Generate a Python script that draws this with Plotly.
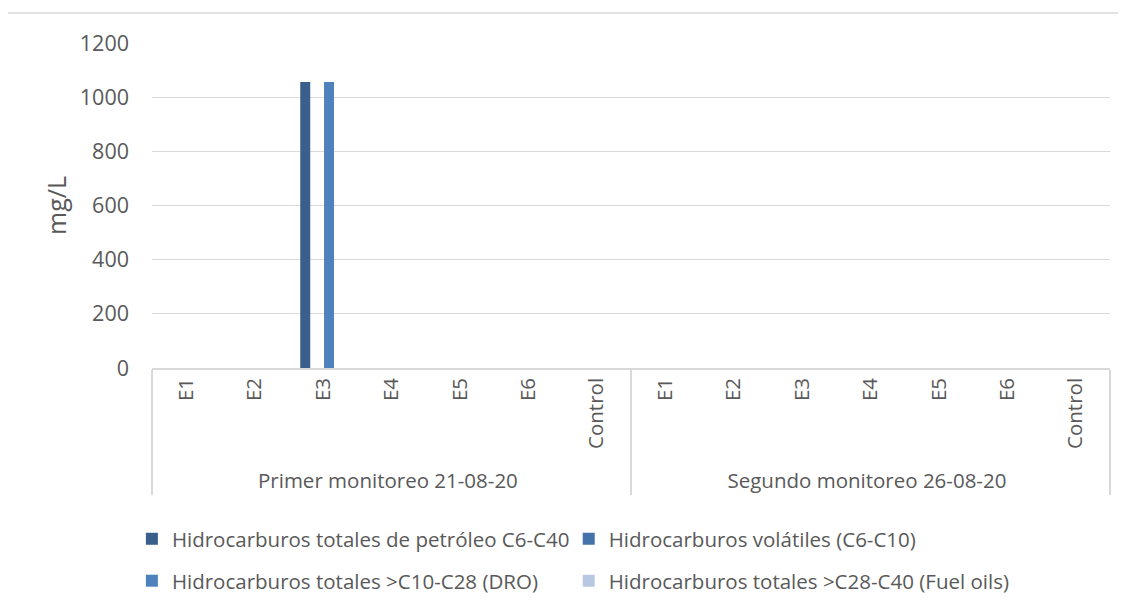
import plotly.graph_objects as go

# category axis: monitoring campaign / station
campaigns = [
    "Primer monitoreo 21-08-20", "Primer monitoreo 21-08-20", "Primer monitoreo 21-08-20",
    "Primer monitoreo 21-08-20", "Primer monitoreo 21-08-20", "Primer monitoreo 21-08-20",
    "Primer monitoreo 21-08-20",
    "Segundo monitoreo 26-08-20", "Segundo monitoreo 26-08-20", "Segundo monitoreo 26-08-20",
    "Segundo monitoreo 26-08-20", "Segundo monitoreo 26-08-20", "Segundo monitoreo 26-08-20",
    "Segundo monitoreo 26-08-20",
]
stations = ["E1", "E2", "E3", "E4", "E5", "E6", "Control",
            "E1", "E2", "E3", "E4", "E5", "E6", "Control"]

# mg/L
tph_c6_c40 = [0, 0, 1056, 0, 0, 0, 0, 0, 0, 0, 0, 0, 0, 0]
volatiles_c6_c10 = [0, 0, 0, 0, 0, 0, 0, 0, 0, 0, 0, 0, 0, 0]
dro_c10_c28 = [0, 0, 1056, 0, 0, 0, 0, 0, 0, 0, 0, 0, 0, 0]
fuel_c28_c40 = [0, 0, 0, 0, 0, 0, 0, 0, 0, 0, 0, 0, 0, 0]

series = [
    ("Hidrocarburos totales de petróleo C6-C40", tph_c6_c40, "#3A5F8B"),
    ("Hidrocarburos volátiles (C6-C10)", volatiles_c6_c10, "#4572A8"),
    ("Hidrocarburos totales >C10-C28 (DRO)", dro_c10_c28, "#4F81BD"),
    ("Hidrocarburos totales >C28-C40 (Fuel oils)", fuel_c28_c40, "#B9C8E2"),
]

font_family = "Open Sans"
grey_text = "#595959"
grey_line = "#D9D9D9"

# one legend per entry so the 2x2 grid can be placed like the original
legend_names = ["legend", "legend2", "legend3", "legend4"]
legend_xy = [(-0.021, -0.526), (0.435, -0.526), (-0.021, -0.655), (0.435, -0.655)]

fig = go.Figure()
for (name, vals, color), leg in zip(series, legend_names):
    fig.add_trace(go.Bar(
        x=[campaigns, stations],
        y=vals,
        name=name,
        marker=dict(color=color, line=dict(width=0)),
        legend=leg,
    ))

legends = {}
for leg, (lx, ly) in zip(legend_names, legend_xy):
    legends[leg] = dict(
        orientation="h",
        xanchor="left",
        yanchor="middle",
        x=lx,
        y=ly,
        font=dict(family=font_family, size=20.5, color=grey_text),
        bgcolor="rgba(0,0,0,0)",
    )

# page body has an 8px margin, so the figure is shifted by 8px right/down
fig.update_layout(
    width=1126,
    height=612,
    margin=dict(l=144, r=24, t=35, b=252),
    paper_bgcolor="white",
    plot_bgcolor="white",
    font=dict(family=font_family, size=20.5, color=grey_text),
    barmode="group",
    bargap=0.305,
    bargroupgap=0.16,
    showlegend=True,
    shapes=[
        dict(type="rect", xref="paper", yref="paper",
             x0=-0.1514, x1=1.05, y0=-0.85, y1=1.0923,
             line=dict(color=grey_line, width=1.5), fillcolor="rgba(0,0,0,0)",
             layer="below"),
    ],
    **legends,
)

fig.update_yaxes(
    range=[0, 1200],
    dtick=200,
    showgrid=True,
    gridcolor=grey_line,
    gridwidth=1,
    zeroline=False,
    showline=False,
    ticks="",
    ticklabelstandoff=22,
    tickfont=dict(family=font_family, size=21.5, color=grey_text),
    title=dict(text="mg/L", standoff=6,
               font=dict(family=font_family, size=25, color=grey_text)),
)

fig.update_xaxes(
    type="multicategory",
    tickangle=-90,
    showline=True,
    linecolor=grey_line,
    linewidth=1.5,
    showgrid=False,
    ticks="",
    showdividers=True,
    dividercolor=grey_line,
    dividerwidth=1.5,
    tickfont=dict(family=font_family, size=20.5, color=grey_text),
)

fig.write_html("out.html")
